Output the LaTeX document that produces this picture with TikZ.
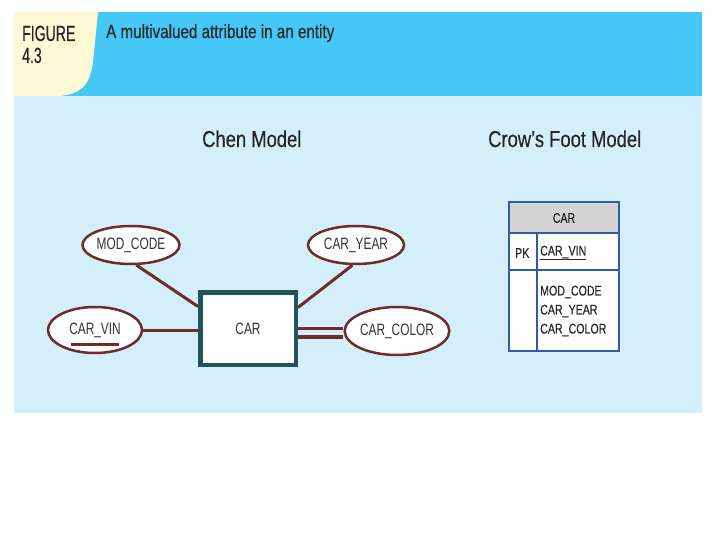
\documentclass[tikz,border=0pt]{standalone}
\usepackage{fontspec}
\setmainfont{Liberation Sans}
\newfontfamily\capsfont[FakeStretch=0.64,FakeBold=0.4]{Liberation Sans}
\newfontfamily\headfont[FakeStretch=0.8,FakeBold=0.4]{Liberation Sans}
\newfontfamily\attrfont[FakeStretch=0.72]{Liberation Sans}
\newfontfamily\tabfont[FakeStretch=0.76,FakeBold=0.2]{Liberation Sans}
\usetikzlibrary{shapes.geometric}
\definecolor{headblue}{HTML}{45C8F5}
\definecolor{paleblue}{HTML}{D4EEFA}
\definecolor{cornercream}{HTML}{FEF8D6}
\definecolor{chenbrown}{HTML}{6E2D2A}
\definecolor{entteal}{HTML}{1F5458}
\definecolor{tabblue}{HTML}{2D5EA6}
\definecolor{tabgray}{HTML}{D3D3D3}

\begin{document}
\begin{tikzpicture}[x=1pt,y=-1pt, inner sep=0pt,
  attr/.style={ellipse, draw=chenbrown, line width=2.5pt, fill=white, font=\attrfont\fontsize{16.5}{18}\selectfont, text=black!80},
  link/.style={chenbrown, line width=3pt},
  cell/.style={draw=tabblue, line width=2pt},
  tabtext/.style={font=\tabfont\fontsize{14}{19}\selectfont, text=black!85}]
\useasboundingbox[fill=white] (0,0) rectangle (720,540);
% frame and heading:
\fill[paleblue] (14,96) rectangle (702,413);
\fill[headblue] (14,12) rectangle (702,96);
\fill[cornercream] (14,12) -- (98,12) -- (93,62) .. controls (90,86) and (80,94) .. (60,96) -- (14,96) -- cycle;
\node (fig) at (22,41) [anchor=base west, font=\capsfont\fontsize{22}{24}\selectfont, text=black!85] {FIGURE};
\node (num) at (22,63) [anchor=base west, font=\capsfont\fontsize{22}{24}\selectfont, text=black!85] {4.3};
\node (title) at (106,38) [anchor=base west, font=\headfont\fontsize{19}{20}\selectfont, text=black!85] {A multivalued attribute in an entity};
\node (chen) at (202,147) [anchor=base west, font=\headfont\fontsize{23}{25}\selectfont, text=black!85] {Chen Model};
\node (crow) at (488,147) [anchor=base west, font=\headfont\fontsize{23}{25}\selectfont, text=black!85] {Crow’s Foot Model};
% Chen model:
\node (car) at (248,328.5) [rectangle, draw=entteal, line width=4.5pt, fill=white, minimum width=95.5pt, minimum height=72.5pt, font=\attrfont\fontsize{16.5}{18}\selectfont, text=black!80] {CAR};
\node (mod) at (131,245) [attr, minimum width=96pt, minimum height=38pt] {MOD\_CODE};
\node (year) at (356,245) [attr, minimum width=96pt, minimum height=38pt] {CAR\_YEAR};
\node (vin) at (95,330) [attr, minimum width=94pt, minimum height=46pt] {CAR\_VIN};
\node (color) at (397,331) [attr, minimum width=98pt, minimum height=48pt] {CAR\_COLOR};
\draw[chenbrown, line width=3pt] ([xshift=-24pt,yshift=-14pt]vin.center) -- ([xshift=24pt,yshift=-14pt]vin.center);
\draw[link] (mod.-75) -- ([yshift=22pt]car.west);
\draw[link] (year.-100) -- ([yshift=21pt]car.east);
\draw[link] (vin.east) -- (vin.east -| car.west);
\draw[chenbrown, line width=2.8pt] (car.east) -- (car.east -| color.west);
\draw[chenbrown, line width=3.8pt] ([yshift=-8.5pt]car.east) -- ([yshift=-8.5pt]car.east -| color.west);
% Crow's Foot model:
\draw[cell, fill=tabgray] (509,202) rectangle (619,233);
\draw[cell, fill=white] (509,233) rectangle (619,270);
\draw[cell, fill=white] (509,270) rectangle (619,351);
\draw[cell] (537,233) -- (537,351);
\node (tabname) at (564,218) [tabtext] {CAR};
\node (pk) at (515,253) [tabtext, anchor=west] {PK};
\node (key) at (540,253) [tabtext, anchor=west] {\underline{CAR\_VIN}};
\node (attrs) at (540,311) [tabtext, anchor=west, align=left] {MOD\_CODE\\CAR\_YEAR\\CAR\_COLOR};
\end{tikzpicture}
\end{document}
